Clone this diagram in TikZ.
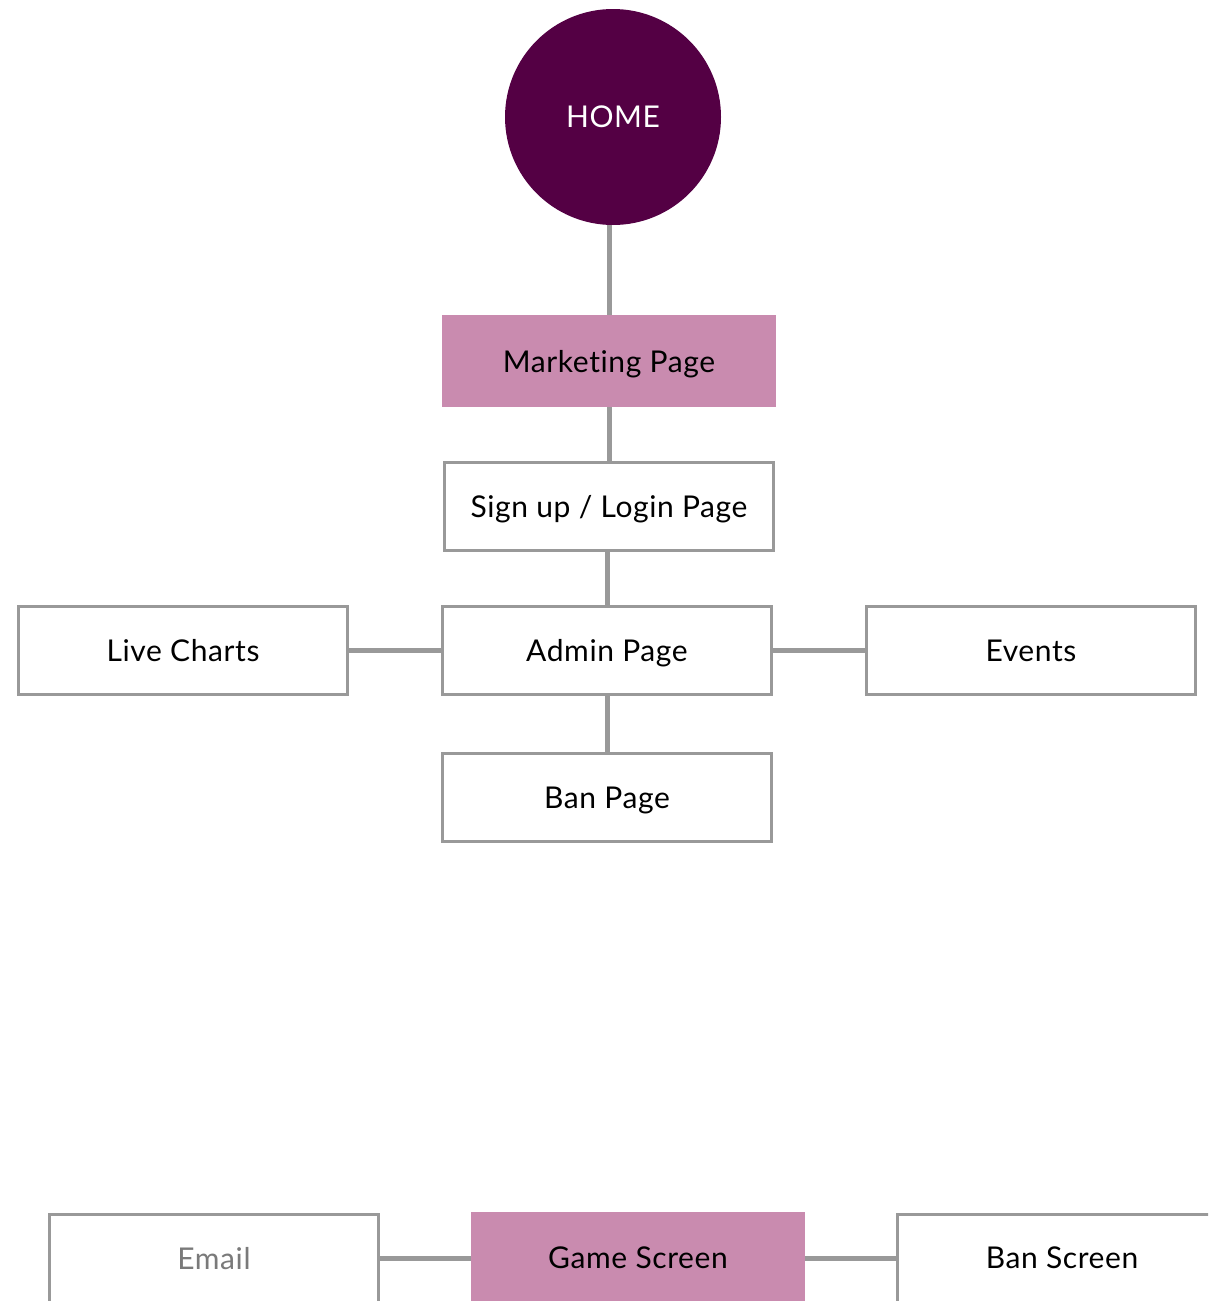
\documentclass[tikz,border=0pt]{standalone}
\usepackage{fontspec}
\setmainfont{Lato}[Ligatures=NoCommon,LetterSpace=2]
\usepackage{xcolor}
\usetikzlibrary{positioning}
\definecolor{homepurple}{HTML}{540044}
\definecolor{pagepink}{HTML}{C98BAF}
\definecolor{linkgray}{HTML}{999999}

\begin{document}
\begin{tikzpicture}[x=1pt,y=-1pt,
  label text/.style={font=\fontsize{30}{34}\selectfont,text depth=0pt},
  box/.style={label text,draw=linkgray,line width=3pt,fill=white,minimum width=329pt,minimum height=88pt,inner sep=0pt},
  pinkbox/.style={label text,fill=pagepink,minimum width=334pt,minimum height=92pt,inner sep=0pt},
  link/.style={draw=linkgray,line width=5pt}]
\useasboundingbox (0,0) rectangle (1208,1301);
\clip (0,0) rectangle (1208,1301);
% top part
\node[circle,fill=homepurple,minimum size=216pt,inner sep=0pt,text=white,label text] (home) at (613,117) {HOME};
\node[pinkbox] (marketing) at (609,361) {Marketing Page};
\node[box] (signup) at (609,506.5) {Sign up / Login Page};
\node[box] (admin) at (607,650.5) {Admin Page};
\node[box] (charts) at (183,650.5) {Live Charts};
\node[box] (events) at (1031,650.5) {Events};
\node[box] (banpage) at (607,797.5) {Ban Page};
% bottom row
\node[box,text=linkgray!80!black] (email) at (214,1258) {Email};
\node[pinkbox] (game) at (638,1258) {Game Screen};
\node[box] (banscreen) at (1062,1258) {Ban Screen};
% links
\draw[link] (home.south -| marketing.north) -- (marketing.north);
\draw[link] (marketing.south) -- (signup.north);
\draw[link] (signup.south -| admin.north) -- (admin.north);
\draw[link] (admin.south) -- (banpage.north);
\draw[link] (charts.east) -- (admin.west);
\draw[link] (admin.east) -- (events.west);
\draw[link] (email.east) -- (game.west);
\draw[link] (game.east) -- (banscreen.west);
\end{tikzpicture}
\end{document}
